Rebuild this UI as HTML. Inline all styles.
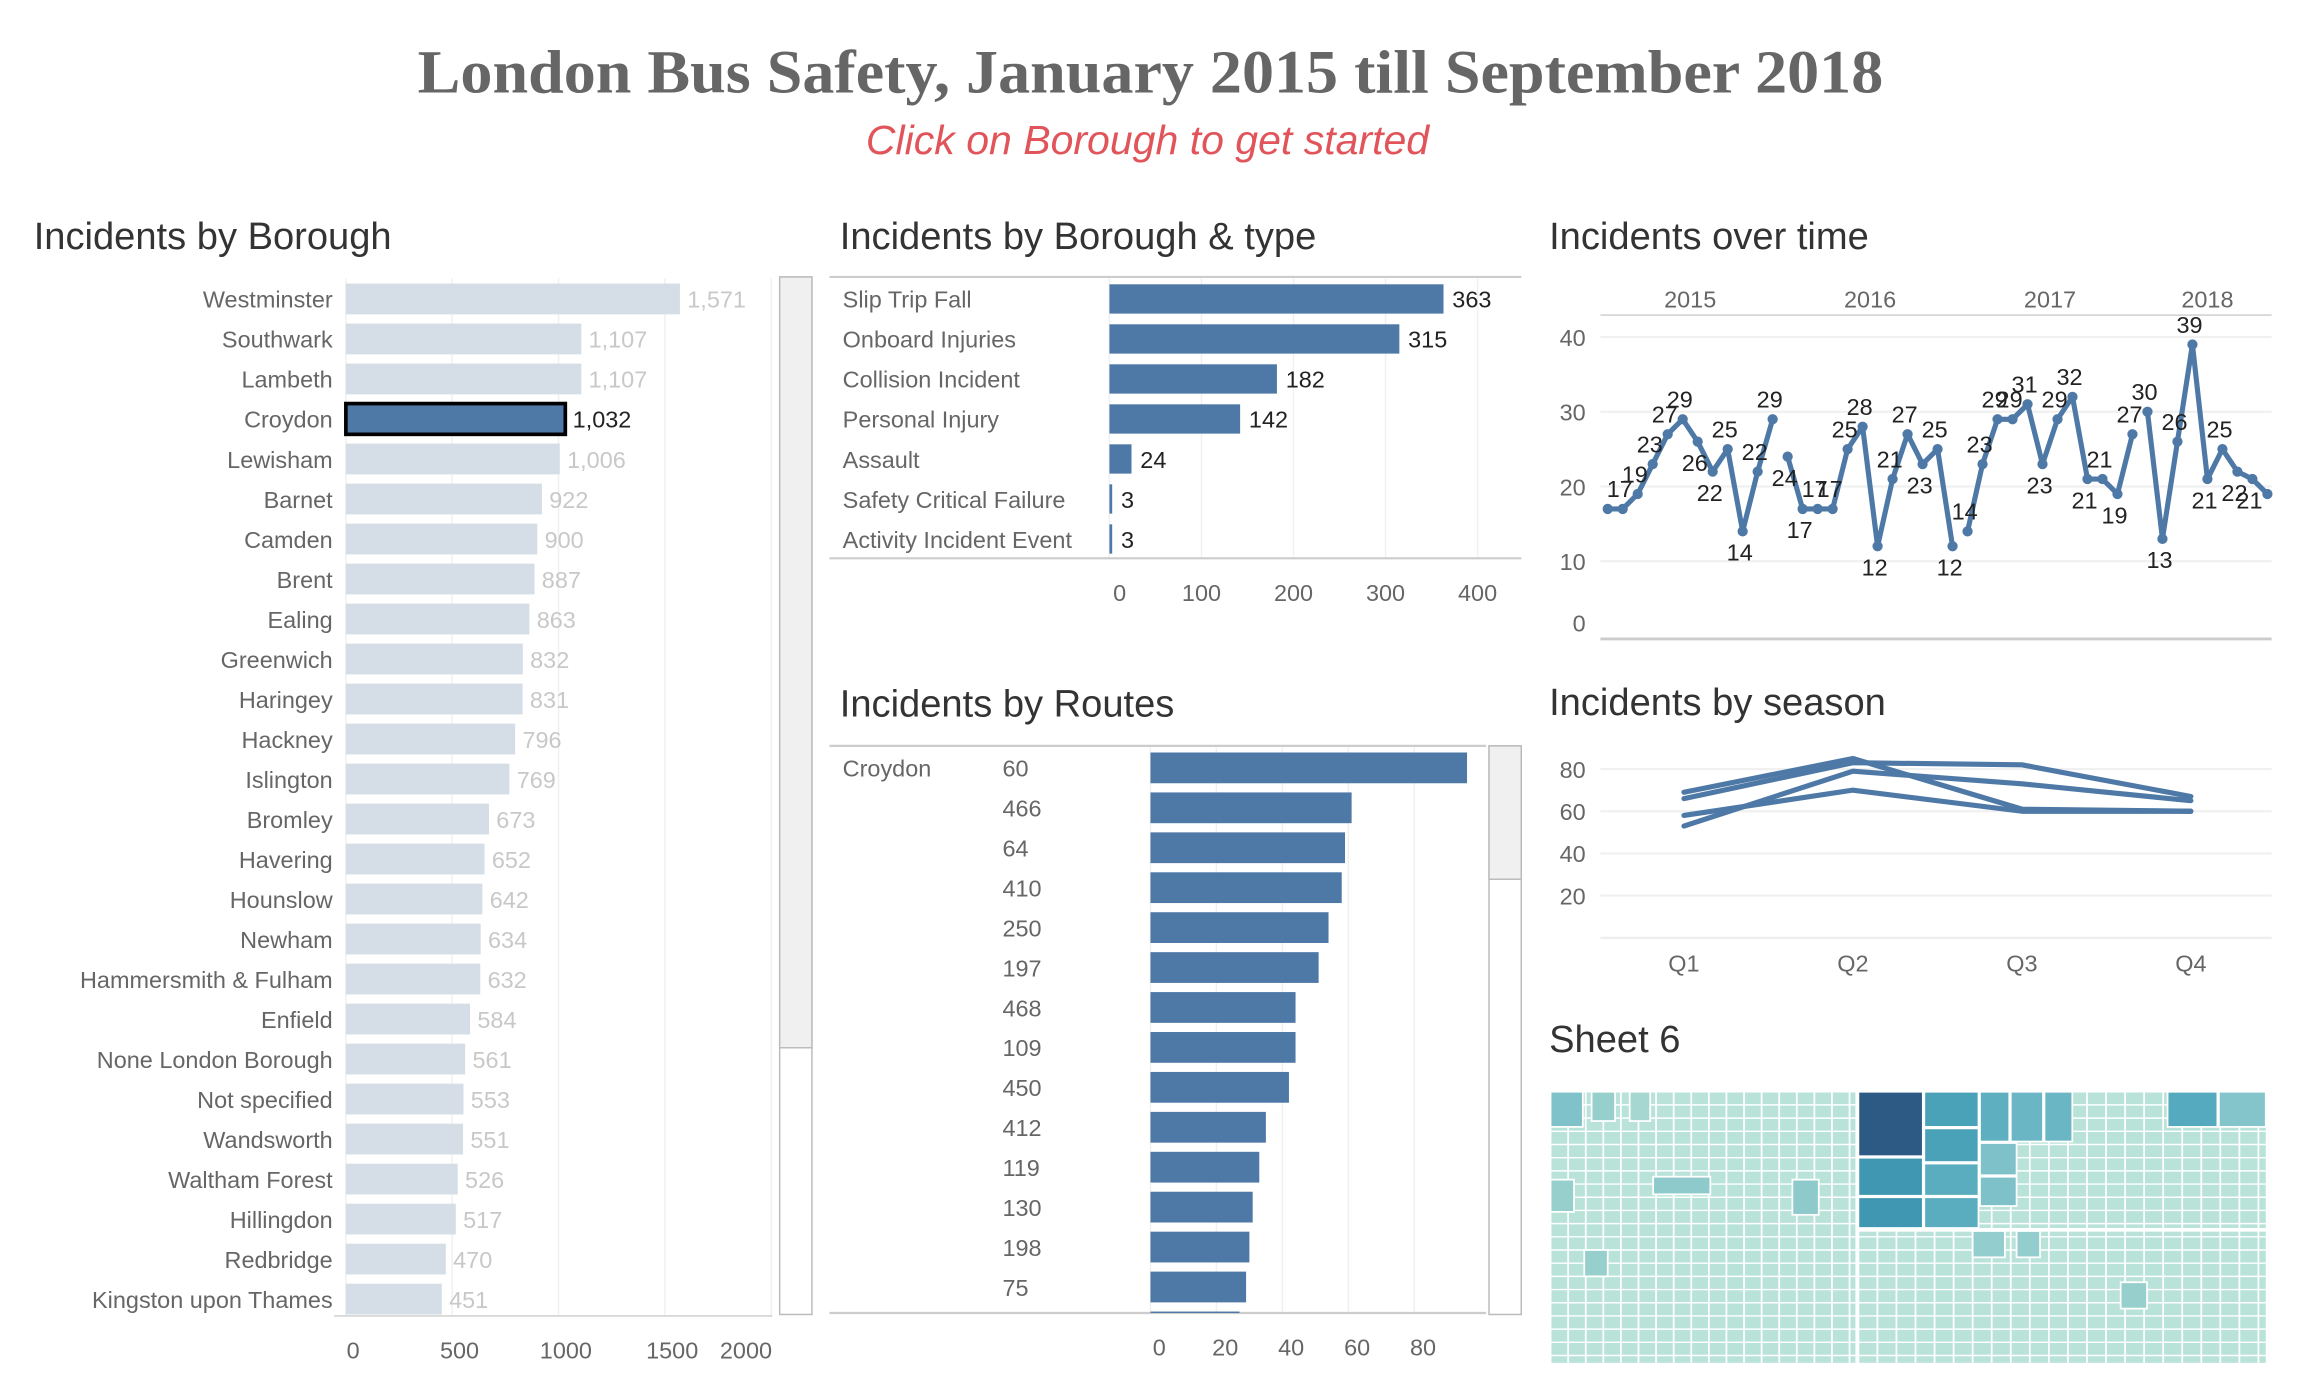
<!DOCTYPE html>
<html><head><meta charset="utf-8"><style>
html,body{margin:0;padding:0;background:#fff;overflow:hidden}
svg{display:block}
text{font-family:"Liberation Sans","DejaVu Sans",sans-serif}
</style></head><body>
<svg id="root" width="2298" height="1398" viewBox="0 0 1568 954" preserveAspectRatio="none" xmlns="http://www.w3.org/2000/svg">
<rect x="0" y="0" width="1568" height="954" fill="#fff"/>
<text x="785" y="63" text-anchor="middle" style="font-family:'Liberation Serif',serif" font-weight="bold" font-size="42" fill="#666" textLength="1000" lengthAdjust="spacingAndGlyphs">London Bus Safety, January 2015 till September 2018</text>
<text x="783" y="105" text-anchor="middle" font-style="italic" font-size="28" fill="#e0545a">Click on Borough to get started</text>
<text x="23" y="170" font-size="26" fill="#333">Incidents by Borough</text>
<text x="573" y="170" font-size="26" fill="#333">Incidents by Borough &amp; type</text>
<text x="1057" y="170" font-size="26" fill="#333">Incidents over time</text>
<text x="573" y="489" font-size="26" fill="#333">Incidents by Routes</text>
<text x="1057" y="488" font-size="26" fill="#333">Incidents by season</text>
<text x="1057" y="718" font-size="26" fill="#333">Sheet 6</text>
<g id="g1"></g><g id="g2"></g><g id="g3"></g><g id="g4"></g><g id="g5"></g><g id="g6"></g>
</svg>
<script>
const NS='http://www.w3.org/2000/svg';
function mk(parent,tag,attrs,txt){const e=document.createElementNS(NS,tag);for(const k in attrs)e.setAttribute(k,attrs[k]);if(txt!==undefined)e.textContent=txt;parent.appendChild(e);return e;}

// ---------- data ----------
const boroughs=["Westminster","Southwark","Lambeth","Croydon","Lewisham","Barnet","Camden","Brent","Ealing","Greenwich","Haringey","Hackney","Islington","Bromley","Havering","Hounslow","Newham","Hammersmith & Fulham","Enfield","None London Borough","Not specified","Wandsworth","Waltham Forest","Hillingdon","Redbridge","Kingston upon Thames"];
const boroughValues=[1571,1107,1107,1032,1006,922,900,887,863,832,831,796,769,673,652,642,634,632,584,561,553,551,526,517,470,451];
const boroughTicks=[0,500,1000,1500,2000];
const selectedBorough="Croydon";

const types=["Slip Trip Fall","Onboard Injuries","Collision Incident","Personal Injury","Assault","Safety Critical Failure","Activity Incident Event"];
const typeValues=[363,315,182,142,24,3,3];
const typeTicks=[0,100,200,300,400];

const routes=["60","466","64","410","250","197","468","109","450","412","119","130","198","75","X"];
const routeValues=[96,61,59,58,54,51,44,44,42,35,33,31,30,29,27];
const routeTicks=[0,20,40,60,80];

const monthly=[17,17,19,23,27,29,26,22,25,14,22,29,24,17,17,17,25,28,12,21,27,23,25,12,14,23,29,29,31,23,29,32,21,21,19,27,30,13,26,39,21,25,22,21,19];
const years=["2015","2016","2017","2018"];
const timeTicks=[0,10,20,30,40];

const quarters=["Q1","Q2","Q3","Q4"];
const season2015=[66,83,82,67];
const season2016=[69,85,61,60];
const season2017=[58,70,60,60];
const season2018=[53,79,73,65];
const seasonTicks=[20,40,60,80];

// ---------- Borough chart ----------
(function(){
 const g=document.getElementById('g1');
 const x0=236,k=0.1451,y0=204,step=27.3,h=21;
 const X=v=>x0+v*k;
 boroughTicks.forEach(t=>{const l=mk(g,'line',{x1:X(t),x2:X(t),y1:190,y2:898,stroke:'#f0f0f0'});
  
  
  const tx=mk(g,'text',{x:t===2000?509:X(t)+5,y:927,'text-anchor':'middle','font-size':16,fill:'#666'},t);
  
  });
 const ax=mk(g,'line',{x1:228,x2:527,y1:898,y2:898,stroke:'#ccc'});
 
 
 boroughs.forEach((b,i)=>{const y=y0+i*step;const sel=b===selectedBorough;
  const lab=mk(g,'text',{x:227,y:y+6,'text-anchor':'end','font-size':16,fill:'#666'},b);
  
  
  const r=mk(g,'rect',{x:x0,y:y-h/2,width:boroughValues[i]*k,height:h,fill:sel?'#4e79a7':'#d5dee7',stroke:sel?'#000':'none','stroke-width':sel?2.5:0});
  
  
  const v=mk(g,'text',{x:x0+boroughValues[i]*k+5,y:y+6,'font-size':16,fill:sel?'#222':'#c8c8c8'},boroughValues[i].toLocaleString('en-US'));
  
  });
 const sb=mk(g,'rect',{x:532,y:189,width:22,height:708,fill:'#fff',stroke:'#bbb'});
 
 
 const th=mk(g,'rect',{x:532,y:189,width:22,height:526,fill:'#f0f0f0',stroke:'#bbb'});
 
 
})();

// ---------- Type chart ----------
(function(){
 const g=document.getElementById('g2');
 const x0=757,k=0.628,y0=204,step=27.3,h=20;
 const X=v=>x0+v*k;
 typeTicks.forEach(t=>{const l=mk(g,'line',{x1:X(t),x2:X(t),y1:190,y2:381,stroke:'#f0f0f0'});
  
  
  const tx=mk(g,'text',{x:X(t)+(t===0?7:0),y:410,'text-anchor':'middle','font-size':16,fill:'#666'},t);
  
  });
 const top=mk(g,'line',{x1:566,x2:1038,y1:189,y2:189,stroke:'#ccc','stroke-width':1.5});
 
 
 const ax=mk(g,'line',{x1:566,x2:1038,y1:381,y2:381,stroke:'#ccc','stroke-width':1.5});
 
 
 types.forEach((t,i)=>{const y=y0+i*step;
  const lab=mk(g,'text',{x:575,y:y+6,'font-size':16,fill:'#666'},t);
  
  
  const r=mk(g,'rect',{x:x0,y:y-h/2,width:Math.max(1.5,typeValues[i]*k),height:h,fill:'#4e79a7'});
  
  
  const v=mk(g,'text',{x:x0+typeValues[i]*k+6,y:y+6,'font-size':16,fill:'#222'},typeValues[i]);
  
  });
})();

// ---------- Routes chart ----------
(function(){
 const g=document.getElementById('g3');
 const x0=785,k=2.25,y0=524,step=27.25,h=21;
 const X=v=>x0+v*k;
 const clip=mk(g,'clipPath',{id:'rclip'});mk(clip,'rect',{x:560,y:508,width:460,height:388});
 routeTicks.forEach(t=>{const l=mk(g,'line',{x1:X(t),x2:X(t),y1:510,y2:896,stroke:'#f0f0f0'});
  
  
  const tx=mk(g,'text',{x:X(t)+6,y:925,'text-anchor':'middle','font-size':16,fill:'#666'},t);
  
  });
 const top=mk(g,'line',{x1:566,x2:1014,y1:509,y2:509,stroke:'#ccc','stroke-width':1.5});
 
 
 const ax=mk(g,'line',{x1:566,x2:1014,y1:896,y2:896,stroke:'#ccc','stroke-width':1.5});
 
 
 const bl=mk(g,'text',{x:575,y:530,'font-size':16,fill:'#666'},'Croydon');
 
 
 const cg=mk(g,'g',{'clip-path':'url(#rclip)'});
 routes.forEach((r,i)=>{const y=y0+i*step;
  if(i<routes.length-1){const lab=mk(cg,'text',{x:684,y:y+6,'font-size':16,fill:'#666'},r);
   
   }
  const b=mk(cg,'rect',{x:x0,y:y-h/2,width:routeValues[i]*k,height:h,fill:'#4e79a7'});
  
  });
 const sb=mk(g,'rect',{x:1016,y:509,width:22,height:388,fill:'#fff',stroke:'#bbb'});
 
 
 const th=mk(g,'rect',{x:1016,y:509,width:22,height:91,fill:'#f0f0f0',stroke:'#bbb'});
 
 
})();

// ---------- Time chart ----------
(function(){
 const g=document.getElementById('g4');
 const X=i=>1097+i*10.23, Y=v=>434-v*5.1;
 timeTicks.forEach(t=>{if(t>0){const l=mk(g,'line',{x1:1092,x2:1550,y1:Y(t),y2:Y(t),stroke:'#f0f0f0','stroke-width':1.5});
  
  }
  const tx=mk(g,'text',{x:1082,y:(t===0?431:Y(t)+6),'text-anchor':'end','font-size':16,fill:'#666'},t);
  
  });
 const hl=mk(g,'line',{x1:1092,x2:1550,y1:215,y2:215,stroke:'#ccc'});
 
 
 const ax=mk(g,'line',{x1:1092,x2:1550,y1:436,y2:436,stroke:'#ccc','stroke-width':2});
 
 
 years.forEach((yr,j)=>{const a=j*12,b=Math.min(monthly.length-1,j*12+11);
  const tx=mk(g,'text',{x:(X(a)+X(b))/2,y:210,'text-anchor':'middle','font-size':16,fill:'#666'},yr);
  
  
  let d='';for(let i=a;i<=b;i++)d+=(i===a?'M':'L')+X(i)+','+Y(monthly[i]);
  const p=mk(g,'path',{d:d,fill:'none',stroke:'#4e79a7','stroke-width':3.5,'stroke-linejoin':'round'});
  
  });
 monthly.forEach((v,i)=>{
  const c=mk(g,'circle',{cx:X(i),cy:Y(v),r:3.5,fill:'#4e79a7'});
  
  
  if(i===0||i===monthly.length-1)return;
  const up=v>=monthly[i-1];
  const tx=mk(g,'text',{x:X(i)-2,y:up?Y(v)-8:Y(v)+20,'text-anchor':'middle','font-size':16,fill:'#222'},v);
  
  });
})();

// ---------- Season chart ----------
(function(){
 const g=document.getElementById('g5');
 const X=i=>1149+i*115.3, Y=v=>640-v*1.44;
 seasonTicks.forEach(t=>{const l=mk(g,'line',{x1:1092,x2:1550,y1:Y(t),y2:Y(t),stroke:'#f0f0f0','stroke-width':1.5});
  
  
  const tx=mk(g,'text',{x:1082,y:Y(t)+6,'text-anchor':'end','font-size':16,fill:'#666'},t);
  
  });
 const ax=mk(g,'line',{x1:1092,x2:1550,y1:640,y2:640,stroke:'#eee','stroke-width':1.5});
 
 
 quarters.forEach((q,i)=>{const tx=mk(g,'text',{x:X(i),y:663,'text-anchor':'middle','font-size':16,fill:'#666'},q);
  
  });
 [season2015,season2016,season2017,season2018].forEach((s,j)=>{
  const d=s.map((v,i)=>(i?'L':'M')+X(i)+','+Y(v)).join('');
  const p=mk(g,'path',{d:d,fill:'none',stroke:'#4e79a7','stroke-width':3.5,'stroke-linejoin':'round','stroke-linecap':'round'});
  
  });
})();

// ---------- Treemap ----------
(function(){
 const g=document.getElementById('g6');
 const L=1058,T=745,W=488,H=185;
 const bg=mk(g,'rect',{x:L,y:T,width:W,height:H,fill:'#b9e3d8'});
 
 
 for(let s=0;s<2;s++){
  const x0=s===0?L:1268, w=s===0?208:278, st=s?13:12;
  for(let cx=x0;cx<x0+w;cx+=st){
   const l=mk(g,'line',{x1:cx,x2:cx,y1:T,y2:T+H,stroke:'#fff','stroke-width':1.2});
   
   }
 }
 for(let cy=T;cy<T+H;cy+=9){const l=mk(g,'line',{x1:L,x2:L+W,y1:cy,y2:cy,stroke:'#fff','stroke-width':1});
  
  }
 const blocks=[
  [1268,745,44,44,'#2d5985'],[1313,745,37,24,'#4aa2b8'],[1313,770,37,23,'#4aa2b8'],[1313,794,37,22,'#5aadbe'],
  [1313,817,37,21,'#5aadbe'],[1268,790,44,26,'#3f97b1'],[1268,817,44,21,'#3f97b1'],[1351,745,20,34,'#5eb0c0'],
  [1372,745,22,34,'#6bb6c4'],[1395,745,19,34,'#6bb6c4'],[1351,780,25,22,'#7ec1c8'],[1351,803,25,20,'#7ec1c8'],
  [1479,745,34,24,'#56aac0'],[1514,745,32,24,'#83c5ca'],[1058,745,22,24,'#7fc2c9'],[1128,803,39,12,'#8ecacb'],
  [1223,805,18,24,'#8ecacb'],[1058,805,16,22,'#97cfcd'],[1086,745,16,20,'#97cfcd'],[1112,745,14,20,'#a6d7d0'],
  [1346,840,22,18,'#93cdcd'],[1376,840,16,18,'#93cdcd'],[1447,875,18,18,'#97cfcd'],[1081,853,16,18,'#97cfcd']];
 blocks.forEach(b=>{const r=mk(g,'rect',{x:b[0],y:b[1],width:b[2],height:b[3],fill:b[4],stroke:'#fff','stroke-width':1.2});
  
  });
 [[1266,745,2.5,185],[1268,838,278,2.5]].forEach(b=>{const r=mk(g,'rect',{x:b[0],y:b[1],width:b[2],height:b[3],fill:'#fff'});
  
  });
})();
</script>
</body></html>
